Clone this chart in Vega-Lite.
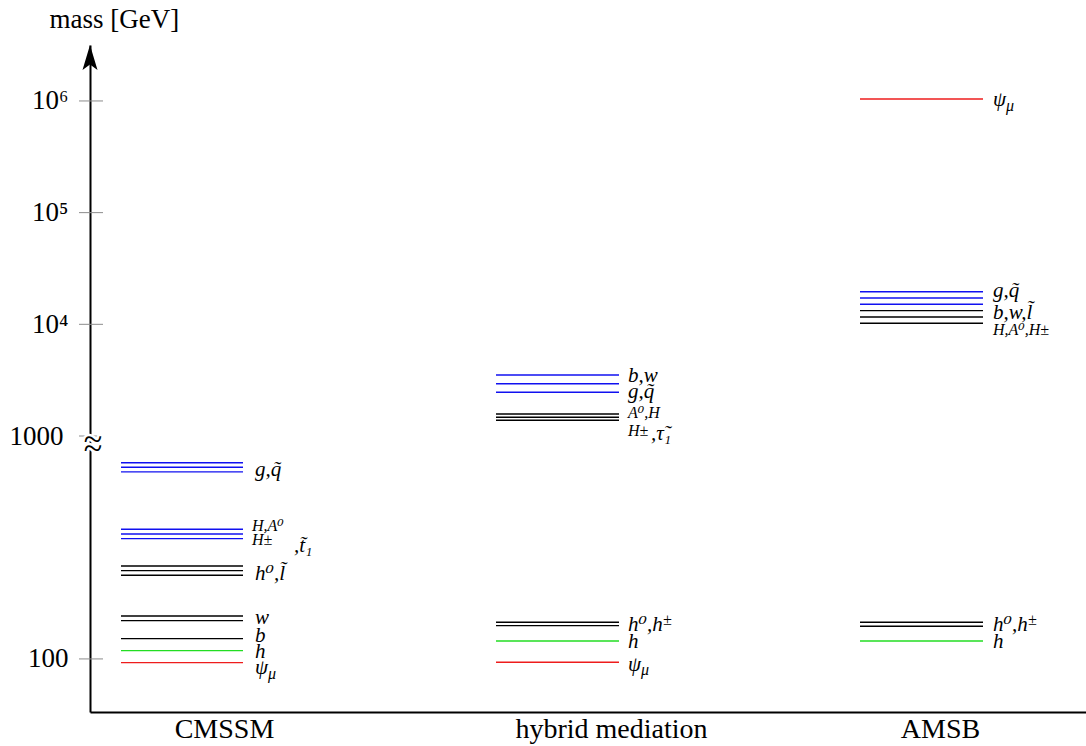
{
  "$schema": "https://vega.github.io/schema/vega-lite/v6.json",
  "width": 996,
  "height": 667,
  "autosize": {"type": "none"},
  "padding": {"left": 90, "top": 45, "right": 0, "bottom": 34},
  "background": "white",
  "config": {"view": {"stroke": null}, "font": "Liberation Serif, DejaVu Serif, serif"},
  "datasets": {
    "levels": [
      {"model": "CMSSM", "x": 31, "x2": 153, "mass": 759, "class": "A"},
      {"model": "CMSSM", "x": 31, "x2": 153, "mass": 724, "class": "A"},
      {"model": "CMSSM", "x": 31, "x2": 153, "mass": 690, "class": "A"},
      {"model": "CMSSM", "x": 31, "x2": 153, "mass": 381.6, "class": "A"},
      {"model": "CMSSM", "x": 31, "x2": 153, "mass": 363.5, "class": "A"},
      {"model": "CMSSM", "x": 31, "x2": 153, "mass": 346.3, "class": "A"},
      {"model": "CMSSM", "x": 31, "x2": 153, "mass": 261.3, "class": "B"},
      {"model": "CMSSM", "x": 31, "x2": 153, "mass": 248.9, "class": "B"},
      {"model": "CMSSM", "x": 31, "x2": 153, "mass": 237.3, "class": "B"},
      {"model": "CMSSM", "x": 31, "x2": 153, "mass": 155.9, "class": "B"},
      {"model": "CMSSM", "x": 31, "x2": 153, "mass": 148.5, "class": "B"},
      {"model": "CMSSM", "x": 31, "x2": 153, "mass": 123.3, "class": "B"},
      {"model": "CMSSM", "x": 31, "x2": 153, "mass": 108.9, "class": "h"},
      {"model": "CMSSM", "x": 31, "x2": 153, "mass": 96.3, "class": "G"},
      {"model": "hybrid mediation", "x": 406, "x2": 529, "mass": 3517, "class": "A"},
      {"model": "hybrid mediation", "x": 406, "x2": 529, "mass": 2940, "class": "A"},
      {"model": "hybrid mediation", "x": 406, "x2": 529, "mass": 2462, "class": "A"},
      {"model": "hybrid mediation", "x": 406, "x2": 529, "mass": 1574, "class": "B"},
      {"model": "hybrid mediation", "x": 406, "x2": 529, "mass": 1471, "class": "B"},
      {"model": "hybrid mediation", "x": 406, "x2": 529, "mass": 1382, "class": "B"},
      {"model": "hybrid mediation", "x": 406, "x2": 529, "mass": 146.1, "class": "B"},
      {"model": "hybrid mediation", "x": 406, "x2": 529, "mass": 141.0, "class": "B"},
      {"model": "hybrid mediation", "x": 406, "x2": 529, "mass": 120.4, "class": "h"},
      {"model": "hybrid mediation", "x": 406, "x2": 529, "mass": 96.6, "class": "G"},
      {"model": "AMSB", "x": 770, "x2": 893, "mass": 1042000, "class": "G"},
      {"model": "AMSB", "x": 770, "x2": 893, "mass": 19600, "class": "A"},
      {"model": "AMSB", "x": 770, "x2": 893, "mass": 17210, "class": "A"},
      {"model": "AMSB", "x": 770, "x2": 893, "mass": 15110, "class": "A"},
      {"model": "AMSB", "x": 770, "x2": 893, "mass": 13250, "class": "B"},
      {"model": "AMSB", "x": 770, "x2": 893, "mass": 11630, "class": "B"},
      {"model": "AMSB", "x": 770, "x2": 893, "mass": 10210, "class": "B"},
      {"model": "AMSB", "x": 770, "x2": 893, "mass": 146.1, "class": "B"},
      {"model": "AMSB", "x": 770, "x2": 893, "mass": 140.2, "class": "B"},
      {"model": "AMSB", "x": 770, "x2": 893, "mass": 120.4, "class": "h"}
    ],
    "labels": [
      {"text": "g,q̃", "x": 165, "mass": 704},
      {"text": ",t̃₁", "x": 204, "mass": 321},
      {"text": "h⁰,l̃", "x": 165, "mass": 240.6},
      {"text": "w", "x": 165, "mass": 152.7},
      {"text": "b", "x": 165, "mass": 126.8},
      {"text": "h", "x": 165, "mass": 107.5},
      {"text": "ψ", "x": 165, "mass": 91.1},
      {"text": "b,w", "x": 538, "mass": 3444},
      {"text": "g,q̃", "x": 538, "mass": 2477},
      {"text": ",τ̃₁", "x": 561, "mass": 1042},
      {"text": "h⁰,h", "x": 538, "mass": 142.1},
      {"text": "h", "x": 538, "mass": 119.2},
      {"text": "ψ", "x": 538, "mass": 94.0},
      {"text": "ψ", "x": 903, "mass": 1021000},
      {"text": "g,q̃", "x": 903, "mass": 19890},
      {"text": "b,w,l̃", "x": 903, "mass": 12630},
      {"text": "h⁰,h", "x": 903, "mass": 142.1},
      {"text": "h", "x": 903, "mass": 119.2}
    ],
    "scripts": [
      {"text": "H,A⁰", "x": 162, "mass": 394.8},
      {"text": "H±", "x": 162, "mass": 341.7},
      {"text": "μ", "x": 178, "mass": 85.65},
      {"text": "A⁰,H", "x": 538, "mass": 1607},
      {"text": "H±", "x": 538, "mass": 1109},
      {"text": "±", "x": 573, "mass": 149.6},
      {"text": "μ", "x": 551, "mass": 89.3},
      {"text": "μ", "x": 916, "mass": 901600},
      {"text": "H,A⁰,H±", "x": 903, "mass": 8892},
      {"text": "±", "x": 938, "mass": 149.6}
    ],
    "ticks": [
      {"mass": 100}, {"mass": 1000}, {"mass": 10000}, {"mass": 100000}, {"mass": 1000000}
    ],
    "axisBreak": [
      {"symbol": "~", "mass": 959.5},
      {"symbol": "~", "mass": 874.4}
    ]
  },
  "layer": [
    {
      "data": {"name": "levels"},
      "mark": {"type": "rule", "strokeWidth": 1.4},
      "encoding": {
        "y": {
          "field": "mass",
          "type": "quantitative",
          "scale": {"type": "log", "domain": [57.8, 1000, 3170000], "range": [667, 391, 0], "nice": false, "zero": false},
          "axis": {
            "title": "mass [GeV]",
            "titleAngle": 0,
            "titleAlign": "left",
            "titleBaseline": "alphabetic",
            "titleX": -41,
            "titleY": -18,
            "titleFont": "Liberation Serif, DejaVu Serif, serif",
            "titleFontSize": 27,
            "titleFontWeight": "normal",
            "titleColor": "black",
            "values": [100, 1000, 10000, 100000, 1000000],
            "labelExpr": "datum.value >= 1000000 ? '10⁶' : datum.value >= 100000 ? '10⁵' : datum.value >= 10000 ? '10⁴' : datum.value >= 1000 ? '1000' : '100'",
            "ticks": false,
            "grid": false,
            "domainColor": "black",
            "domainWidth": 2,
            "labelFont": "Liberation Serif, DejaVu Serif, serif",
            "labelFontSize": 27,
            "labelColor": "black",
            "labelPadding": {"condition": {"test": "datum.value == 1000", "value": 27}, "value": 22}
          }
        },
        "x": {
          "field": "x",
          "type": "quantitative",
          "scale": {"domain": [0, 996], "nice": false, "zero": false},
          "axis": {
            "title": null,
            "values": [134, 521, 850],
            "labelExpr": "datum.value < 300 ? 'CMSSM' : datum.value < 700 ? 'hybrid mediation' : 'AMSB'",
            "ticks": false,
            "grid": false,
            "domainColor": "black",
            "domainWidth": 2,
            "labelFont": "Liberation Serif, DejaVu Serif, serif",
            "labelFontSize": 28,
            "labelColor": "black",
            "labelPadding": 3,
            "labelLimit": 0,
            "labelOverlap": false
          }
        },
        "x2": {"field": "x2"},
        "color": {"field": "class", "type": "nominal", "legend": null,
          "scale": {"domain": ["A", "B", "h", "G"], "range": ["#1010f0", "#000000", "#22dd22", "#ee1c1c"]}}
      }
    },
    {
      "data": {"name": "ticks"},
      "mark": {"type": "rule", "color": "#8c8c8c", "strokeWidth": 1},
      "encoding": {
        "y": {"field": "mass", "type": "quantitative"},
        "x": {"datum": -11, "type": "quantitative"},
        "x2": {"datum": 13}
      }
    },
    {
      "data": {"name": "labels"},
      "mark": {"type": "text", "align": "left", "baseline": "middle", "fontSize": 21, "fontStyle": "italic", "font": "Liberation Serif, DejaVu Serif, serif", "color": "black"},
      "encoding": {
        "y": {"field": "mass", "type": "quantitative"},
        "x": {"field": "x", "type": "quantitative"},
        "text": {"field": "text"}
      }
    },
    {
      "data": {"name": "scripts"},
      "mark": {"type": "text", "align": "left", "baseline": "middle", "fontSize": 16, "fontStyle": "italic", "font": "Liberation Serif, DejaVu Serif, serif", "color": "black"},
      "encoding": {
        "y": {"field": "mass", "type": "quantitative"},
        "x": {"field": "x", "type": "quantitative"},
        "text": {"field": "text"}
      }
    },
    {
      "data": {"name": "axisBreak"},
      "mark": {"type": "text", "align": "center", "baseline": "middle", "fontSize": 34, "font": "Liberation Serif, DejaVu Serif, serif", "color": "white", "stroke": "white", "strokeWidth": 5},
      "encoding": {
        "y": {"field": "mass", "type": "quantitative"},
        "x": {"datum": 3, "type": "quantitative"},
        "text": {"field": "symbol"}
      }
    },
    {
      "data": {"name": "axisBreak"},
      "mark": {"type": "text", "align": "center", "baseline": "middle", "fontSize": 34, "font": "Liberation Serif, DejaVu Serif, serif", "color": "black"},
      "encoding": {
        "y": {"field": "mass", "type": "quantitative"},
        "x": {"datum": 3, "type": "quantitative"},
        "text": {"field": "symbol"}
      }
    },
    {
      "data": {"values": [{"part": "arrowhead", "mass": 3170000}]},
      "mark": {"type": "point", "filled": true, "color": "black", "opacity": 1, "size": 625, "shape": "M0,0 L0.6,2 L0,1.55 L-0.6,2 Z"},
      "encoding": {
        "y": {"field": "mass", "type": "quantitative"},
        "x": {"datum": 0, "type": "quantitative"}
      }
    }
  ]
}
